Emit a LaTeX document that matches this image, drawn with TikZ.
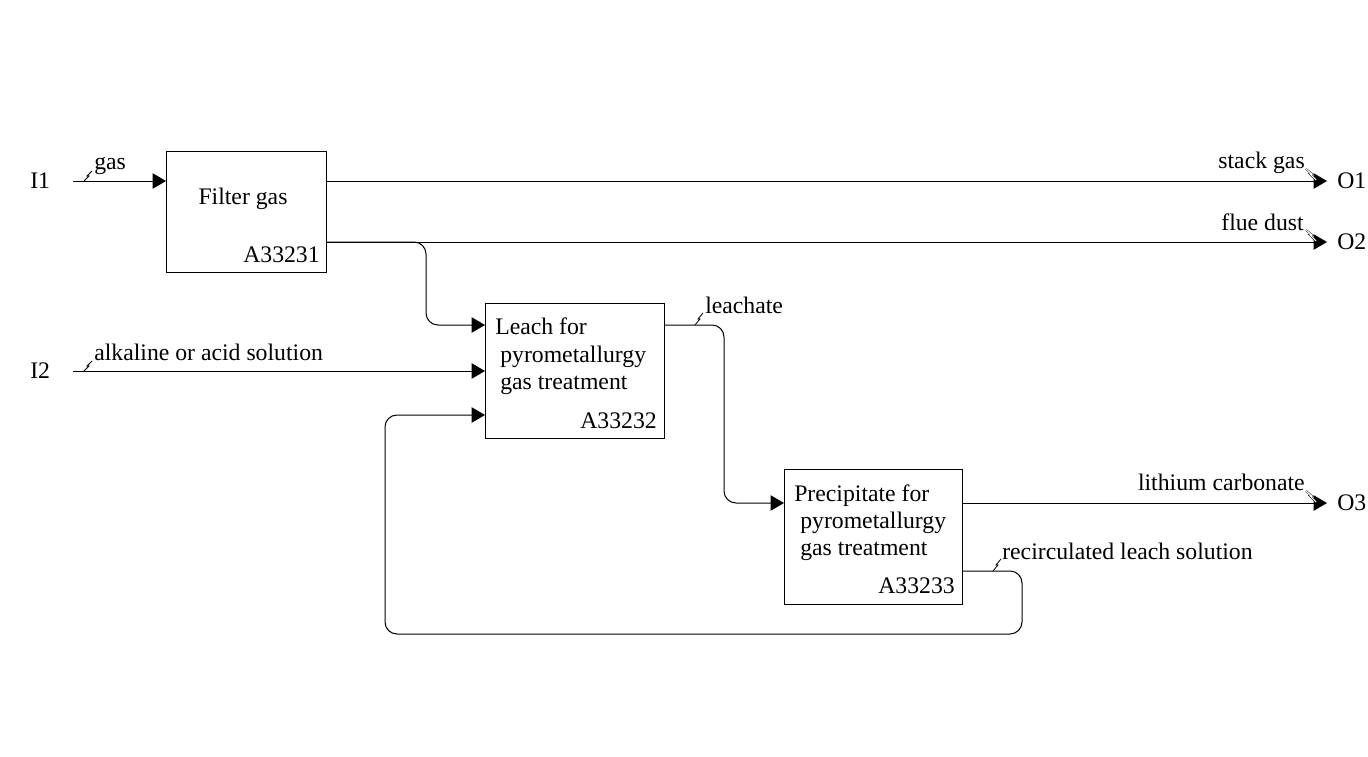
\documentclass[tikz,border=0pt]{standalone}
\usepackage{fontspec}
\setmainfont{Liberation Serif}
\usetikzlibrary{positioning,arrows.meta}

\begin{document}
\begin{tikzpicture}[x=0.75pt, y=-0.75pt, font=\fontsize{17.8}{21}\selectfont,
actbox/.style={rectangle, draw=black, line width=0.75pt, inner sep=0pt, anchor=north west},
boxtext/.style={anchor=base west, inner sep=0pt},
idtext/.style={anchor=base east, inner sep=0pt},
flowlabel/.style={anchor=base west, inner sep=0pt},
outlabel/.style={anchor=base east, inner sep=0pt},
portin/.style={anchor=east, inner ysep=0pt, inner xsep=17pt},
portout/.style={anchor=west, inner ysep=0pt, inner xsep=7.5pt},
flow/.style={line width=0.75pt, rounded corners=9pt, -{Triangle[length=10pt, width=11.5pt]}},
squig/.style={line width=0.6pt},
squigout/.style={line width=0.3pt, double, double distance=0.8pt},
]
\useasboundingbox (0,0) rectangle (1368,757);

%Nodes
\node[actbox, minimum width=120pt, minimum height=90.75pt]    (A1) at (166,151) {};
\node[actbox, minimum width=134.25pt, minimum height=101.25pt] (A2) at (485,303) {};
\node[actbox, minimum width=133.5pt, minimum height=101.25pt]  (A3) at (784,469) {};

\node[anchor=base, inner sep=0pt] (A1t1) at (243,204) {Filter gas};
\node[idtext] (A1id) at (320,262) {A33231};

\node[boxtext] (A2t1) at (495,334) {Leach for};
\node[boxtext] (A2t2) at (500,362) {pyrometallurgy};
\node[boxtext] (A2t3) at (500,389) {gas treatment};
\node[idtext]  (A2id) at (657,428) {A33232};

\node[boxtext] (A3t1) at (794,501) {Precipitate for};
\node[boxtext] (A3t2) at (800,528) {pyrometallurgy};
\node[boxtext] (A3t3) at (800,555) {gas treatment};
\node[idtext]  (A3id) at (955,593) {A33233};

\node[portin]  (I1) at (73,181) {I1};
\node[portin]  (I2) at (73,371) {I2};
\node[portout] (O1) at (1327,181) {O1};
\node[portout] (O2) at (1327,242) {O2};
\node[portout] (O3) at (1327,503) {O3};

\node[flowlabel] (gas)      at (94,169)   {gas};
\node[flowlabel] (solution) at (94,360)   {alkaline or acid solution};
\node[flowlabel] (leachate) at (705,313)  {leachate};
\node[flowlabel] (recirc)   at (1002,559) {recirculated leach solution};
\node[outlabel]  (stack)    at (1305,168) {stack gas};
\node[outlabel]  (dust)     at (1304,230) {flue dust};
\node[outlabel]  (lithium)  at (1305,490) {lithium carbonate};

\coordinate (b1) at (426,325);
\coordinate (b2) at (724,503);
\coordinate (r0) at (1022,571);
\coordinate (r1) at (1022,634);
\coordinate (r2) at (385,415);

%Lines
\draw[flow] (I1.east) -- (A1.west |- I1.east);
\draw[flow] (A1.east |- O1.west) -- (O1.west);
\draw[flow] (A1.east |- O2.west) -- (O2.west);
\draw[flow] (A1.east |- O2.west) -| (b1) -- (A2.west |- b1);
\draw[flow] (I2.east) -- (A2.west |- I2.east);
\draw[flow] (A2.east |- b1) -| (b2) -- (A3.west |- b2);
\draw[flow] (A3.east |- O3.west) -- (O3.west);
\draw[flow] (A3.east |- r0) -| (r1) -| (r2) -- (A2.west |- r2);

%Squiggles
\draw[squig] (84,181) -- ++(5,-5) -- ++(-2,0) -- ++(5,-5);
\draw[squig] (84,371) -- ++(5,-5) -- ++(-2,0) -- ++(5,-5);
\draw[squig] (695,325) -- ++(5,-6) -- ++(-2,0) -- ++(5,-6);
\draw[squig] (993,571) -- ++(5,-6) -- ++(-2,0) -- ++(5,-6);
\draw[squigout] (1306,169) -- ++(6,5) -- ++(-2,0) -- ++(6,6);
\draw[squigout] (1306,230) -- ++(6,5) -- ++(-2,0) -- ++(6,6);
\draw[squigout] (1306,491) -- ++(6,5) -- ++(-2,0) -- ++(6,6);

\end{tikzpicture}
\end{document}
